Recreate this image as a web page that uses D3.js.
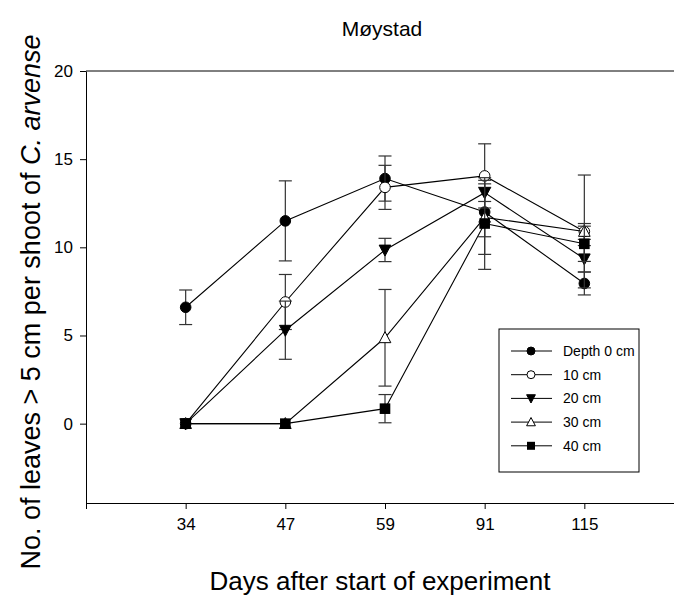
<!DOCTYPE html>
<html>
<head>
<meta charset="utf-8">
<script src="https://cdn.jsdelivr.net/npm/d3@7"></script>
<style>
body { margin: 0; background: #fff; }
text { font-family: "Liberation Sans", Arial, sans-serif; }
</style>
</head>
<body>
<div id="chart"></div>
<script>
// days after start (categorical, equally spaced)
var days = ["34", "47", "59", "91", "115"];

var seriesNames = ["Depth 0 cm", "10 cm", "20 cm", "30 cm", "40 cm"];
var symbols = ["circleFilled", "circleOpen", "triDown", "triUpOpen", "square"];

var depth0  = [6.6, 11.5, 13.9, 12.0, 7.95];
var depth10 = [0, 6.9, 13.4, 14.05, 10.9];
var depth20 = [0, 5.3, 9.85, 13.1, 9.35];
var depth30 = [0, 0, 4.87, 11.7, 10.9];
var depth40 = [0, 0, 0.85, 11.35, 10.2];

var err0  = [0.98, 2.27, 1.28, 1.4, 0.65];
var err10 = [0, 1.56, 1.25, 1.82, 0.45];
var err20 = [0, 1.65, 0.66, 0.5, 0.75];
var err30 = [0, 0, 2.74, 2.1, 3.2];
var err40 = [0, 0, 0.8, 2.6, 1.0];

var allValues = [depth0, depth10, depth20, depth30, depth40];
var allErrors = [err0, err10, err20, err30, err40];

var width = 674, height = 595;

var svg = d3.select("#chart").append("svg")
	.attr("width", width)
	.attr("height", height);

var x = d3.scaleLinear().domain([-1, 5]).range([86, 684]);
var y = d3.scaleLinear().domain([-4.5, 20]).range([503, 71]);

// frame top line
svg.append("line")
	.attr("x1", x(-1)).attr("x2", x(5))
	.attr("y1", y(20)).attr("y2", y(20))
	.attr("stroke", "#000").attr("stroke-width", 1);

var xAxis = svg.append("g")
	.attr("transform", `translate(0,${y(-4.5)})`)
	.call(d3.axisBottom(x).tickValues([-1, 0, 1, 2, 3, 4])
		.tickFormat(function(i) { return i < 0 ? "" : days[i]; })
		.tickSize(6).tickSizeOuter(0).tickPadding(9));

var yAxis = svg.append("g")
	.attr("transform", `translate(${x(-1)},0)`)
	.call(d3.axisLeft(y).tickValues([0, 5, 10, 15, 20])
		.tickSize(6).tickSizeOuter(0).tickPadding(7));

[xAxis, yAxis].forEach(function(g) {
	g.select(".domain").attr("stroke", "#000");
	g.selectAll(".tick line").attr("stroke", "#000");
	g.selectAll(".tick text").attr("fill", "#000").style("font-size", "17px");
});

// titles
svg.append("text")
	.attr("x", 382).attr("y", 36)
	.attr("text-anchor", "middle")
	.style("font-size", "21px")
	.text("Møystad");

svg.append("text")
	.attr("x", 380).attr("y", 590)
	.attr("text-anchor", "middle")
	.style("font-size", "26px")
	.text("Days after start of experiment");

var yt = svg.append("text")
	.attr("transform", "translate(40,302) rotate(-90)")
	.attr("text-anchor", "middle")
	.style("font-size", "27px");
yt.append("tspan").text("No. of leaves > 5 cm per shoot of ");
yt.append("tspan").style("font-style", "italic").text("C. arvense");

function drawSymbol(g, kind, cx, cy, s) {
	if (kind === "circleFilled" || kind === "circleOpen") {
		g.append("circle").attr("cx", cx).attr("cy", cy).attr("r", s)
			.attr("fill", kind === "circleFilled" ? "#000" : "#fff")
			.attr("stroke", "#000").attr("stroke-width", 1);
	} else if (kind === "square") {
		g.append("rect").attr("x", cx - s).attr("y", cy - s)
			.attr("width", 2 * s).attr("height", 2 * s)
			.attr("fill", "#000");
	} else {
		var h = s * 1.15;
		var pts = kind === "triDown"
			? [[cx - s * 1.1, cy - h * 0.8], [cx + s * 1.1, cy - h * 0.8], [cx, cy + h]]
			: [[cx - s * 1.1, cy + h * 0.8], [cx + s * 1.1, cy + h * 0.8], [cx, cy - h]];
		g.append("polygon").attr("points", pts.map(function(p) { return p.join(","); }).join(" "))
			.attr("fill", kind === "triDown" ? "#000" : "#fff")
			.attr("stroke", "#000").attr("stroke-width", 1);
	}
}

var line = d3.line()
	.x(function(d, i) { return x(i); })
	.y(function(d) { return y(d); });

allValues.forEach(function(vals, k) {
	var g = svg.append("g");
	var errs = allErrors[k];
	// error bars
	vals.forEach(function(v, i) {
		if (!errs[i]) return;
		var cx = x(i);
		g.append("line").attr("x1", cx).attr("x2", cx)
			.attr("y1", y(v - errs[i])).attr("y2", y(v + errs[i]))
			.attr("stroke", "#333").attr("stroke-width", 1.2);
		[v - errs[i], v + errs[i]].forEach(function(e) {
			g.append("line").attr("x1", cx - 6.5).attr("x2", cx + 6.5)
				.attr("y1", y(e)).attr("y2", y(e))
				.attr("stroke", "#333").attr("stroke-width", 1.2);
		});
	});
	g.append("path").datum(vals)
		.attr("fill", "none").attr("stroke", "#000").attr("stroke-width", 1.1)
		.attr("d", line);
	vals.forEach(function(v, i) {
		drawSymbol(g, symbols[k], x(i), y(v), 5.3);
	});
});

// legend
var lg = svg.append("g");
lg.append("rect").attr("x", 499).attr("y", 329).attr("width", 140).attr("height", 143)
	.attr("fill", "#fff").attr("stroke", "#000").attr("stroke-width", 1);
seriesNames.forEach(function(name, k) {
	var ly = 351 + k * 23.7;
	lg.append("line").attr("x1", 511).attr("x2", 552).attr("y1", ly).attr("y2", ly)
		.attr("stroke", "#000").attr("stroke-width", 1);
	drawSymbol(lg, symbols[k], 531, ly, 4);
	lg.append("text").attr("x", 563).attr("y", ly + 5)
		.style("font-size", "14px").text(name);
});
</script>
</body>
</html>
